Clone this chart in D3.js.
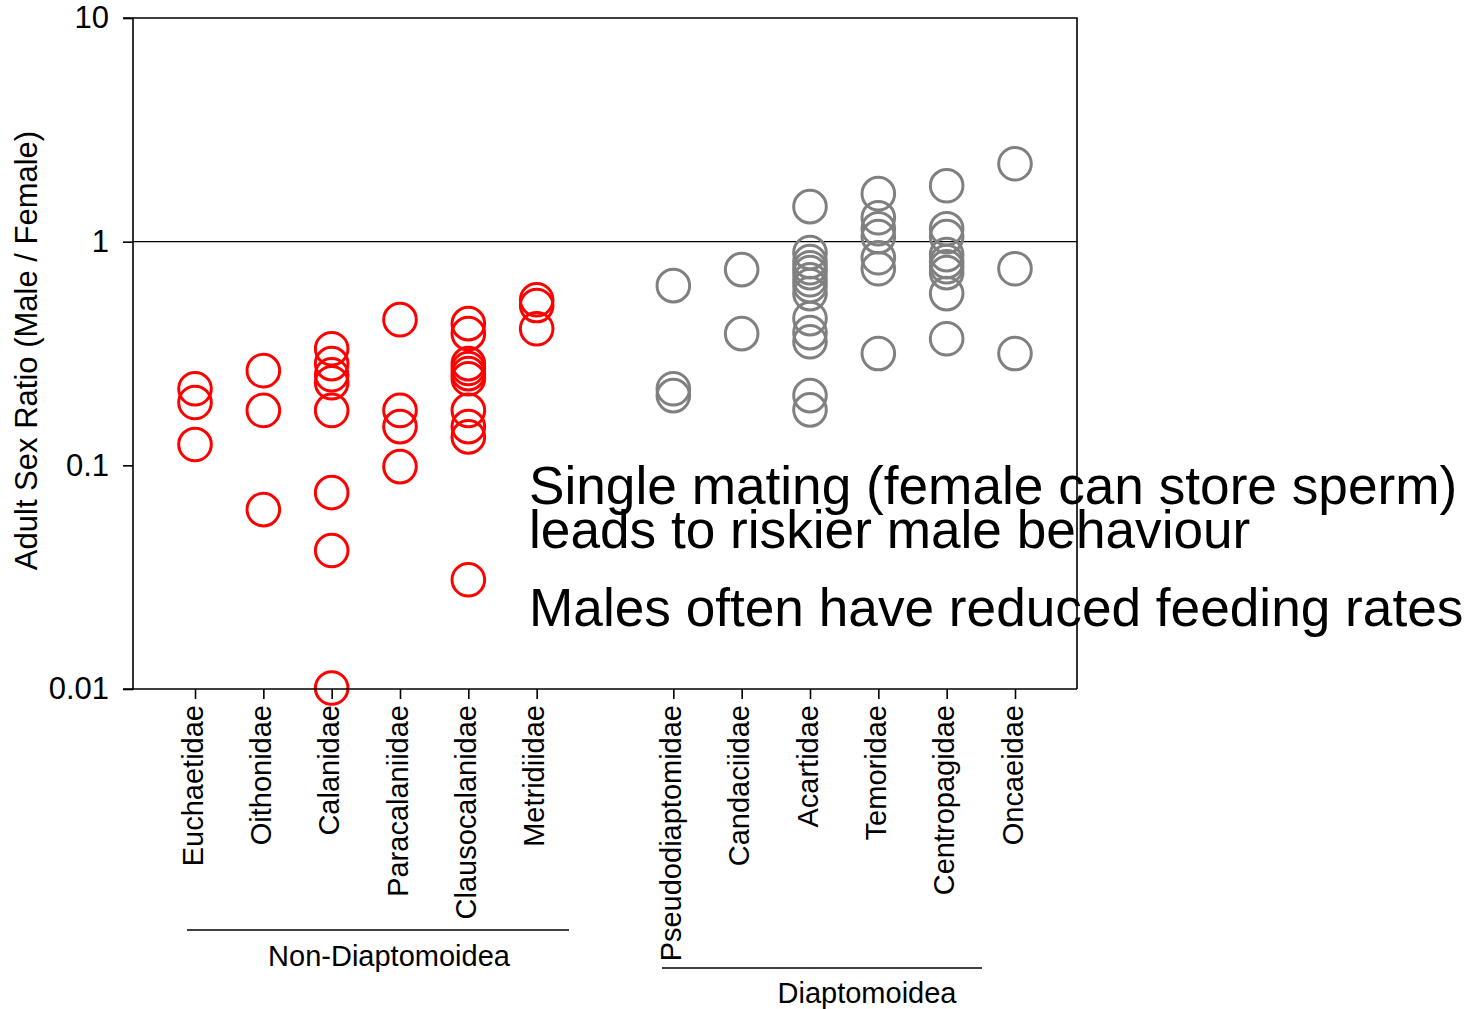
<!DOCTYPE html>
<html>
<head>
<meta charset="utf-8">
<script src="https://cdn.jsdelivr.net/npm/d3@7"></script>
<style>
  html, body { margin: 0; padding: 0; background: #fff; }
  svg { display: block; font-family: "Liberation Sans", Arial, sans-serif; }
</style>
</head>
<body>
<svg id="chart" width="1479" height="1009"></svg>
<script>
// ---------- DATA ----------
const nonDiapFamilies = ["Euchaetidae", "Oithonidae", "Calanidae", "Paracalaniidae", "Clausocalanidae", "Metridiidae"];
const diapFamilies = ["Pseudodiaptomidae", "Candaciidae", "Acartidae", "Temoridae", "Centropagidae", "Oncaeidae"];

// adult sex ratios (male / female), one array per family
const nonDiapValues = [
  [0.220, 0.191, 0.124],                                              // Euchaetidae
  [0.265, 0.176, 0.0634],                                             // Oithonidae
  [0.332, 0.285, 0.254, 0.234, 0.176, 0.0755, 0.0416, 0.0101],        // Calanidae
  [0.448, 0.176, 0.149, 0.0987],                                      // Paracalaniidae
  [0.430, 0.388, 0.285, 0.271, 0.257, 0.244, 0.176, 0.149, 0.134, 0.0308], // Clausocalanidae
  [0.550, 0.518, 0.408]                                               // Metridiidae
];
const diapValues = [
  [0.636, 0.220, 0.205],                                              // Pseudodiaptomidae
  [0.750, 0.388],                                                     // Candaciidae
  [1.434, 0.893, 0.814, 0.765, 0.727, 0.676, 0.636, 0.586, 0.453, 0.392, 0.357, 0.205, 0.177], // Acartidae
  [1.639, 1.280, 1.143, 1.053, 0.848, 0.757, 0.316],                  // Temoridae
  [1.779, 1.143, 1.053, 0.875, 0.814, 0.773, 0.727, 0.586, 0.368],    // Centropagidae
  [2.230, 0.757, 0.316]                                               // Oncaeidae
];

const yTicks = [0.01, 0.1, 1, 10];
const yTickLabels = ["0.01", "0.1", "1", "10"];
const yTitle = "Adult Sex Ratio (Male / Female)";
const groupLabels = ["Non-Diaptomoidea", "Diaptomoidea"];
const annotationLines = ["Single mating (female can store sperm)", "leads to riskier male behaviour", "Males often have reduced feeding rates"];

// ---------- LAYOUT ----------
const plot = { left: 133, right: 1077, top: 18, bottom: 689 };
const svg = d3.select("#chart");

const spacer = "__gap__";
const slots = [...nonDiapFamilies, spacer, ...diapFamilies];
const x = d3.scalePoint().domain(slots).range([plot.left, plot.right]).padding(0.9075);
const y = d3.scaleLog().domain([0.01, 10]).range([plot.bottom, plot.top]);

// reference line at ratio = 1
svg.append("line")
  .attr("x1", plot.left).attr("x2", plot.right)
  .attr("y1", y(1)).attr("y2", y(1))
  .attr("stroke", "#000").attr("stroke-width", 1.1);

// points
function drawGroup(fams, vals, color) {
  const pts = [];
  fams.forEach((f, i) => vals[i].forEach(v => pts.push({ f, v })));
  svg.append("g").selectAll("circle").data(pts).join("circle")
    .attr("cx", d => x(d.f))
    .attr("cy", d => y(d.v))
    .attr("r", 16.3)
    .attr("fill", "none")
    .attr("stroke", color)
    .attr("stroke-width", 3);
}
drawGroup(nonDiapFamilies, nonDiapValues, "#ff0000");
drawGroup(diapFamilies, diapValues, "#808080");

// frame: top and right
svg.append("path")
  .attr("d", `M${plot.left},${plot.top}H${plot.right}V${plot.bottom}`)
  .attr("fill", "none").attr("stroke", "#000").attr("stroke-width", 1.6);

// y axis
const yAxis = d3.axisLeft(y).tickValues(yTicks)
  .tickFormat((d, i) => yTickLabels[i]).tickSize(10).tickPadding(14);
const gy = svg.append("g").attr("transform", `translate(${plot.left},0)`).call(yAxis);
gy.select(".domain").attr("stroke-width", 1.6).attr("d", `M-10,${plot.top}H0V${plot.bottom}H-10`);
gy.selectAll(".tick line").attr("stroke-width", 1.6);
gy.selectAll(".tick text").attr("font-size", 31).attr("fill", "#000")
  .attr("font-family", "Liberation Sans, Arial, sans-serif");

// x axis
const xAxis = d3.axisBottom(x).tickValues(slots.filter(s => s !== spacer)).tickSize(10).tickPadding(6);
const gx = svg.append("g").attr("transform", `translate(0,${plot.bottom})`).call(xAxis);
gx.select(".domain").attr("stroke-width", 1.6).attr("d", `M${plot.left},0H${plot.right}`);
gx.selectAll(".tick line").attr("stroke-width", 1.6);
gx.selectAll(".tick text")
  .attr("font-size", 29).attr("fill", "#000")
  .attr("font-family", "Liberation Sans, Arial, sans-serif")
  .attr("transform", "rotate(-90)")
  .attr("text-anchor", "end")
  .attr("x", -16).attr("y", 0).attr("dy", "0.25em");

// y title
svg.append("text")
  .attr("transform", `translate(37,${(128 + 573) / 2}) rotate(-90)`)
  .attr("text-anchor", "middle")
  .attr("font-size", 31)
  .text(yTitle);

// group brackets
svg.append("line").attr("x1", 187).attr("x2", 569).attr("y1", 930).attr("y2", 930)
  .attr("stroke", "#000").attr("stroke-width", 1.3);
svg.append("text").attr("x", 389).attr("y", 966).attr("text-anchor", "middle")
  .attr("font-size", 29).text(groupLabels[0]);
svg.append("line").attr("x1", 662).attr("x2", 982).attr("y1", 968).attr("y2", 968)
  .attr("stroke", "#000").attr("stroke-width", 1.3);
svg.append("text").attr("x", 867).attr("y", 1003).attr("text-anchor", "middle")
  .attr("font-size", 29).text(groupLabels[1]);

// annotation
const annY = [504, 548, 626];
svg.append("g").selectAll("text").data(annotationLines).join("text")
  .attr("x", 529).attr("y", (d, i) => annY[i])
  .attr("font-size", 53.2).attr("fill", "#000")
  .text(d => d);
</script>
</body>
</html>
